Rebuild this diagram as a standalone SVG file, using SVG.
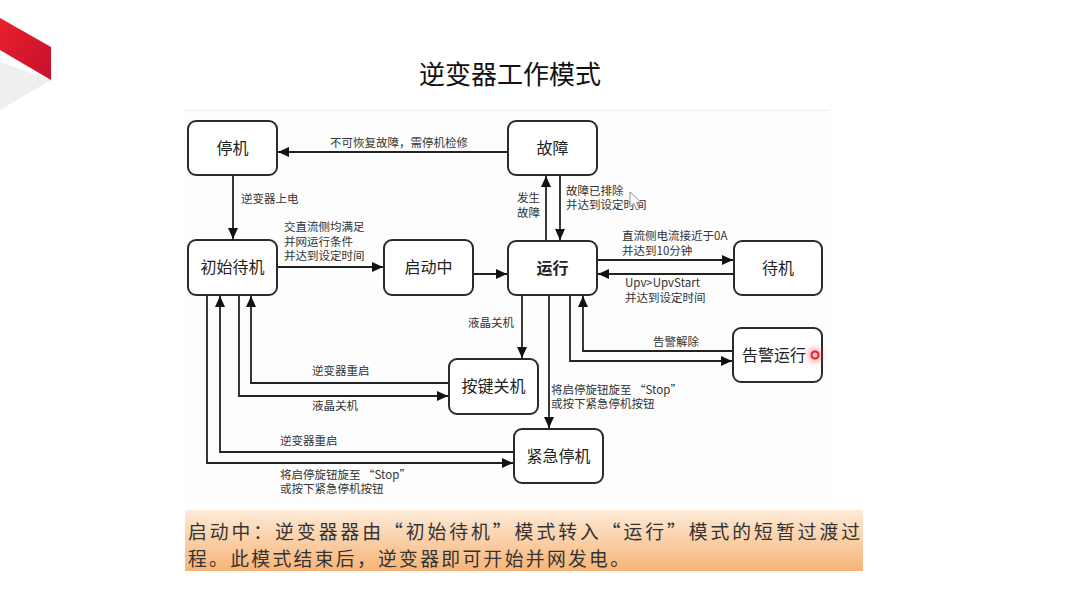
<svg xmlns="http://www.w3.org/2000/svg" width="1080" height="608" viewBox="0 0 1080 608">
<defs>
<style>
.node rect{fill:#fff;stroke:#2b2b2b;stroke-width:2}
.nt{font-family:"Noto Sans CJK SC","Noto Sans",sans-serif;font-size:16px;fill:#222;text-anchor:middle}
.lb{font-family:"Noto Sans CJK SC","Noto Sans",sans-serif;font-size:11.5px;fill:#333}
.cn path{fill:none;stroke:#222;stroke-width:1.8;marker-end:url(#ah)}
.ot{font-family:"Noto Sans CJK SC","Noto Sans",sans-serif;font-size:18.8px;fill:#333}
</style>
<marker id="ah" markerUnits="userSpaceOnUse" markerWidth="11" markerHeight="10" refX="11" refY="5" orient="auto">
<path d="M0,0 L11,5 L0,10 z" fill="#111"/>
</marker>
<linearGradient id="og" x1="0" y1="0" x2="0" y2="1">
<stop offset="0" stop-color="#fdebd8"/>
<stop offset="1" stop-color="#f7b477"/>
</linearGradient>
<linearGradient id="rg" x1="0" y1="0" x2="1" y2="1">
<stop offset="0" stop-color="#e8202f"/>
<stop offset="1" stop-color="#c8102a"/>
</linearGradient>
<filter id="blur" x="-1" y="-1" width="3" height="3"><feGaussianBlur stdDeviation="3"/></filter>
</defs>
<rect width="1080" height="608" fill="#fff"/>
<polygon points="0,62 51,80 0,110" fill="#efefef"/>
<polygon points="0,18 51,47 51,80 0,50" fill="url(#rg)"/>
<text x="510" y="84" font-family="'Noto Sans CJK SC','Noto Sans',sans-serif" font-size="26" fill="#111" text-anchor="middle">逆变器工作模式</text>
<rect x="184" y="110" width="646" height="392" fill="#fdfdfd"/>
<line x1="184" y1="110.5" x2="830" y2="110.5" stroke="#f0f0f0" stroke-width="1"/>

<g id="connectors" class="cn">
<path d="M508,152 H278"/>
<path d="M233,175 V239"/>
<path d="M277,267 H383"/>
<path d="M473,274 H507"/>
<path d="M546,241 V176"/>
<path d="M560,175 V240"/>
<path d="M597,260 H733"/>
<path d="M734,274 H598"/>
<path d="M522,295 V358"/>
<path d="M549,295 V428"/>
<path d="M570,295 V361 H732"/>
<path d="M733,351 H583 V296"/>
<path d="M449,383 H251 V296"/>
<path d="M239,295 V396 H448"/>
<path d="M514,452 H220 V296"/>
<path d="M207,295 V463 H513"/>
</g>

<g id="labels">
<text class="lb" x="330" y="147">不可恢复故障，需停机检修</text>
<text class="lb" x="241" y="203">逆变器上电</text>
<text class="lb" x="284" y="231">交直流侧均满足</text>
<text class="lb" x="284" y="245.5">并网运行条件</text>
<text class="lb" x="284" y="260">并达到设定时间</text>
<text class="lb" x="517" y="202">发生</text>
<text class="lb" x="517" y="217">故障</text>
<text class="lb" x="566" y="195">故障已排除</text>
<text class="lb" x="566" y="209">并达到设定时间</text>
<text class="lb" x="622" y="240">直流侧电流接近于0A</text>
<text class="lb" x="622" y="255">并达到10分钟</text>
<text class="lb" x="625" y="287">Upv&gt;UpvStart</text>
<text class="lb" x="625" y="302">并达到设定时间</text>
<text class="lb" x="468" y="327">液晶关机</text>
<text class="lb" x="653" y="346">告警解除</text>
<text class="lb" x="551" y="394">将启停旋钮旋至 “Stop”</text>
<text class="lb" x="551" y="408">或按下紧急停机按钮</text>
<text class="lb" x="312" y="375">逆变器重启</text>
<text class="lb" x="312" y="410">液晶关机</text>
<text class="lb" x="280" y="445">逆变器重启</text>
<text class="lb" x="280" y="479">将启停旋钮旋至 “Stop”</text>
<text class="lb" x="280" y="493">或按下紧急停机按钮</text>
</g>

<g id="n-stop" class="node"><rect x="188" y="121" width="89" height="54" rx="8"/><text class="nt" x="232.5" y="153.5">停机</text></g>
<g id="n-fault" class="node"><rect x="508" y="121" width="89" height="54" rx="8"/><text class="nt" x="552.5" y="153.5">故障</text></g>
<g id="n-init" class="node"><rect x="188" y="240" width="89" height="55" rx="8"/><text class="nt" x="232.5" y="273">初始待机</text></g>
<g id="n-starting" class="node"><rect x="384" y="240" width="89" height="55" rx="8"/><text class="nt" x="428.5" y="273">启动中</text></g>
<g id="n-run" class="node"><rect x="508" y="241" width="89" height="54" rx="8"/><text class="nt" x="552.5" y="273.5" font-weight="bold">运行</text></g>
<g id="n-standby" class="node"><rect x="734" y="241" width="88" height="54" rx="8"/><text class="nt" x="778" y="273.5">待机</text></g>
<g id="n-keyoff" class="node"><rect x="449" y="359" width="89" height="55" rx="8"/><text class="nt" x="493.5" y="392">按键关机</text></g>
<g id="n-estop" class="node"><rect x="514" y="429" width="89" height="54" rx="8"/><text class="nt" x="558.5" y="461.5">紧急停机</text></g>
<g id="n-alarm" class="node"><rect x="733" y="328" width="89" height="54" rx="8"/><text class="nt" x="774" y="360.5">告警运行</text></g>

<polygon points="630,192 630,207 634,203.5 637,210 639.5,209 636.5,202.5 641.5,202.5" fill="#fff" stroke="#777" stroke-width="0.8"/>
<circle cx="815" cy="355" r="7" fill="#ff3b3b" opacity="0.45" filter="url(#blur)"/>
<circle cx="815" cy="355" r="3.5" fill="#ffc8c8" stroke="#e51f26" stroke-width="2"/>

<rect x="185" y="510" width="678" height="61" fill="url(#og)"/>
<text class="ot" x="188" y="538.5" textLength="672" lengthAdjust="spacing">启动中：逆变器器由“初始待机”模式转入“运行”模式的短暂过渡过</text>
<text class="ot" x="188" y="566" textLength="441" lengthAdjust="spacing">程。此模式结束后，逆变器即可开始并网发电。</text>
</svg>
